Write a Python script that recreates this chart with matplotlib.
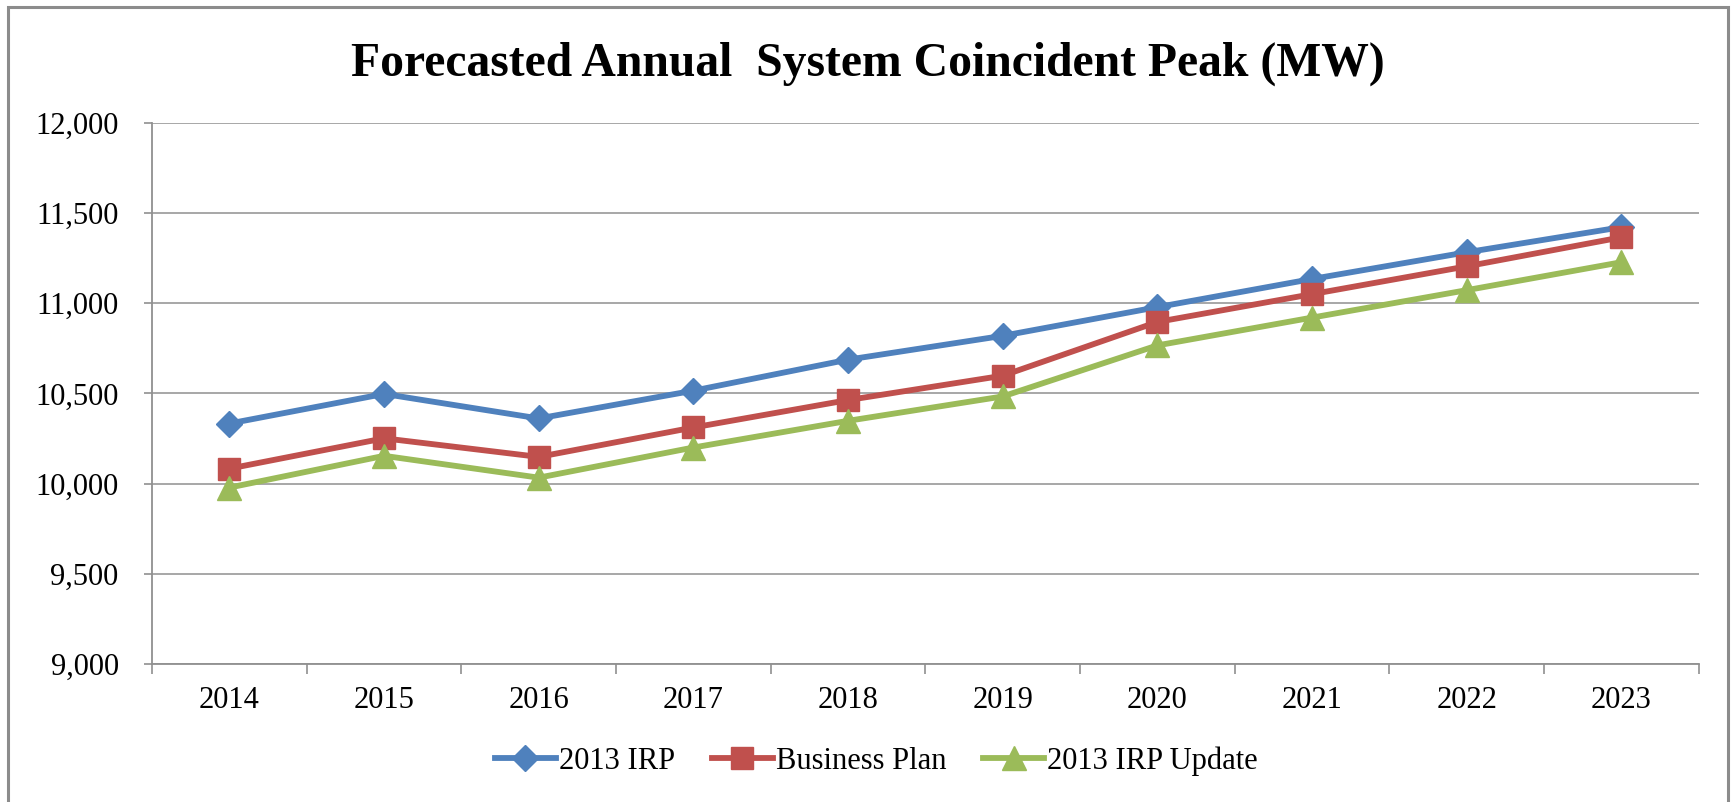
import matplotlib
matplotlib.use("Agg")
import matplotlib.pyplot as plt
from matplotlib.patches import Rectangle

plt.rcParams['font.family'] = ['Liberation Serif', 'DejaVu Serif']

# data
years = ['2014', '2015', '2016', '2017', '2018', '2019', '2020', '2021', '2022', '2023']
irp_2013 = [10333, 10497, 10361, 10515, 10687, 10819, 10978, 11134, 11282, 11421]
business_plan = [10083, 10251, 10148, 10311, 10463, 10598, 10896, 11050, 11204, 11365]
irp_update = [9978, 10154, 10033, 10200, 10348, 10483, 10766, 10920, 11072, 11227]
y_ticks = [9000, 9500, 10000, 10500, 11000, 11500, 12000]

fig = plt.figure(figsize=(17.32, 8.02), dpi=100)
ax = fig.add_axes([0.0878, 0.172, 0.893, 0.675])

x = list(range(len(years)))
ax.plot(x, irp_2013, color='#4F81BD', lw=4.2, marker='D', ms=13,
        mec='#4F81BD', label='2013 IRP', zorder=3)
ax.plot(x, business_plan, color='#C0504D', lw=4.2, marker='s', ms=16,
        mec='#C0504D', label='Business Plan', zorder=4)
ax.plot(x, irp_update, color='#9BBB59', lw=4.2, marker='^', ms=17,
        mec='#9BBB59', label='2013 IRP Update', zorder=5)

ax.set_xlim(-0.5, len(years) - 0.5)
ax.set_ylim(9000, 12000)
ax.set_yticks(y_ticks)
ax.set_yticklabels([f'{v:,}' for v in y_ticks])
ax.set_xticks(x)
ax.set_xticklabels(years)
ax.set_xticks([i - 0.5 for i in range(len(years) + 1)], minor=True)

ax.grid(axis='y', color='#A0A0A0', lw=1.3, zorder=0)
ax.set_axisbelow(True)
for s in ['top', 'right']:
    ax.spines[s].set_visible(False)
for s in ['left', 'bottom']:
    ax.spines[s].set_color('#909090')
    ax.spines[s].set_linewidth(1.3)

ax.tick_params(axis='y', labelsize=22, length=6, width=1.2, color='#909090', pad=18)
ax.tick_params(axis='x', which='major', labelsize=22, length=0, pad=16)
ax.tick_params(axis='x', which='minor', length=7, width=1.2, color='#909090')

fig.text(0.501, 0.921, 'Forecasted Annual  System Coincident Peak (MW)',
         ha='center', va='center', fontsize=34.3, fontweight='bold')

leg = fig.legend(loc='center', bbox_to_anchor=(0.506, 0.051), ncol=3, frameon=False,
                 fontsize=22, handlelength=2.0, handletextpad=0.1, columnspacing=1.2)

# outer chart border
fig.patches.append(Rectangle((8 / 1732, -0.02), 1720 / 1732, 1.02 - 7 / 802,
                             transform=fig.transFigure, fill=False,
                             edgecolor='#8C8C8C', lw=2.2))

fig.savefig('out.png', dpi=100)
